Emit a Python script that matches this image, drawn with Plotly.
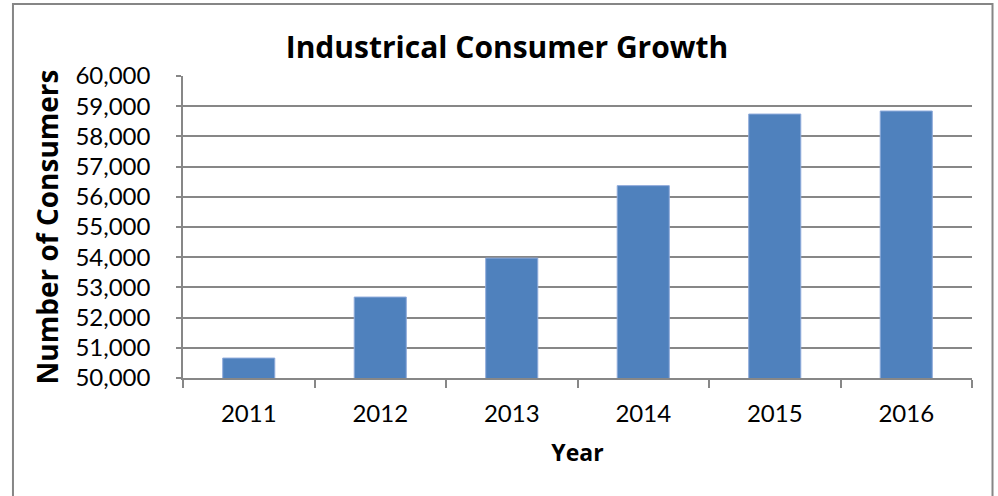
import plotly.graph_objects as go

years = ["2011", "2012", "2013", "2014", "2015", "2016"]
consumers = [50660, 52680, 53970, 56370, 58740, 58840]
y_ticks = [50000 + 1000 * i for i in range(11)]
y_tick_labels = [f"{v:,}" for v in y_ticks]

FONT = "Lato, Carlito, Calibri, sans-serif"
TFONT = "Open Sans, Calibri, sans-serif"
GRID = "#878787"

fig = go.Figure()
fig.add_trace(go.Bar(
    x=years, y=consumers,
    marker=dict(color="#4F81BD", line=dict(color="#8EAADB", width=1)),
    showlegend=False,
))
# invisible trace on secondary axis for inside half of cross ticks
fig.add_trace(go.Scatter(x=years, y=consumers, yaxis="y2", mode="markers",
                         marker=dict(opacity=0), showlegend=False, hoverinfo="skip"))

fig.update_layout(
    width=998, height=496,
    margin=dict(l=183, r=26, t=76, b=118),
    paper_bgcolor="white", plot_bgcolor="white",
    font=dict(family=FONT, size=24, color="#000000"),
    title=dict(text="<b>Industrical Consumer Growth</b>", x=0.508, xanchor="center",
               y=0.905, yanchor="middle", font=dict(size=30, family=TFONT)),
    bargap=0.604,
    xaxis=dict(
        type="category", tickson="boundaries", ticks="outside", ticklen=8,
        tickcolor=GRID, tickwidth=1.5, showline=True, linecolor=GRID, linewidth=1.5,
        showgrid=False, tickfont=dict(size=24), ticklabelstandoff=13,
        title=dict(text="<b>Year</b>", font=dict(size=23, family=TFONT), standoff=19),
    ),
    yaxis=dict(
        range=[50000, 60000], tickvals=y_ticks, ticktext=y_tick_labels,
        ticks="outside", ticklen=5, tickcolor=GRID, tickwidth=1.5,
        showline=True, linecolor=GRID, linewidth=1.5,
        showgrid=True, gridcolor=GRID, gridwidth=1.5, zeroline=False,
        tickfont=dict(size=24), ticklabelstandoff=21,
        title=dict(text="<b>Number of Consumers</b>", font=dict(size=28, family=TFONT), standoff=9),
    ),
    yaxis2=dict(
        overlaying="y", side="left", range=[50000, 60000], tickvals=y_ticks,
        showticklabels=False, ticks="inside", ticklen=5, tickcolor=GRID, tickwidth=1.5,
        showgrid=False, showline=False, zeroline=False,
    ),
    shapes=[dict(type="rect", xref="paper", yref="paper",
                 x0=-0.2155, x1=1.026, y0=-0.6, y1=1.238,
                 line=dict(color="#868686", width=2), layer="below")],
)

fig.write_html("out.html")
